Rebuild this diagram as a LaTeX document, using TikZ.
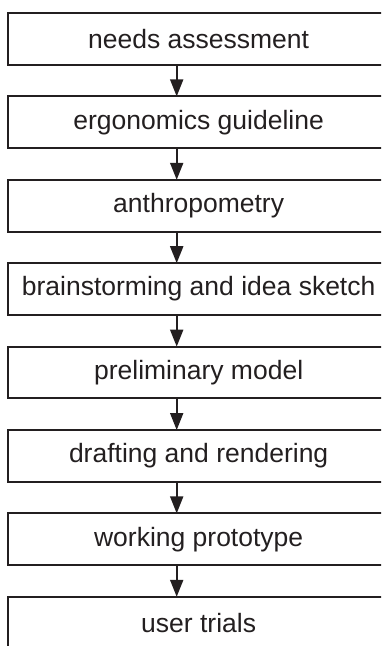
\documentclass[tikz,border=0pt]{standalone}
\usepackage{fontspec}
\setmainfont{Liberation Sans}
\usetikzlibrary{arrows.meta}
\definecolor{ink}{HTML}{231F20}
\begin{document}
\begin{tikzpicture}[x=1pt,y=-1pt,
  stagebox/.style={draw=ink, line width=2pt, minimum width=380.7pt, minimum height=51.7pt,
    inner sep=0pt, text=ink, font=\fontsize{26.5}{30}\selectfont, anchor=north west},
  flowarrow/.style={draw=ink, line width=2pt, -{Triangle[width=13pt,length=17pt]}, shorten >=-1pt}]
\useasboundingbox (0,0) rectangle (381,646);
\clip (0,0) rectangle (381,646);
\coordinate (ax) at (176.7,0);
\node[stagebox] (b1) at (7.3,12.0) {needs assessment};
\node[stagebox] (b2) at (7.3,95.4) {ergonomics guideline};
\node[stagebox] (b3) at (7.3,178.8) {anthropometry};
\node[stagebox] (b4) at (7.3,262.2) {brainstorming and idea sketch};
\node[stagebox] (b5) at (7.3,345.6) {preliminary model};
\node[stagebox] (b6) at (7.3,429.0) {drafting and rendering};
\node[stagebox] (b7) at (7.3,512.4) {working prototype};
\node[stagebox] (b8) at (7.3,595.8) {user trials};
\foreach \a/\b in {b1/b2,b2/b3,b3/b4,b4/b5,b5/b6,b6/b7,b7/b8}
  \draw[flowarrow] (\a.south -| ax) -- (\b.north -| ax);
\end{tikzpicture}
\end{document}
